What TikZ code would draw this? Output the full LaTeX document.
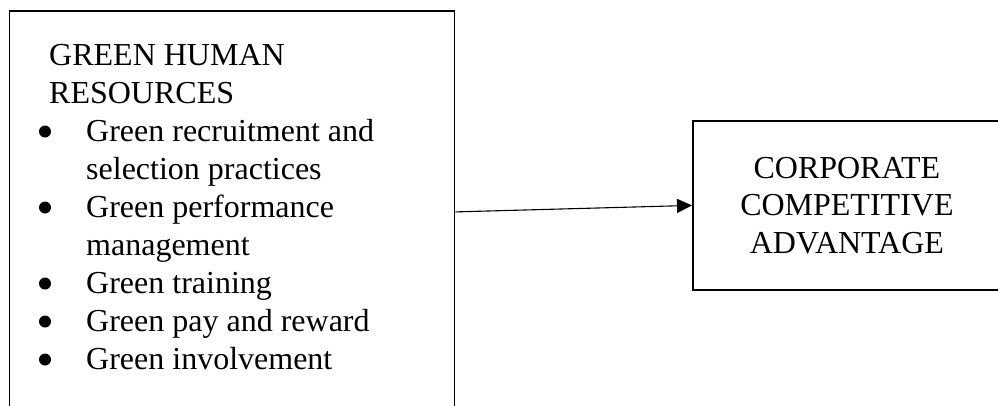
\documentclass[tikz,border=0pt]{standalone}
\usepackage{fontspec}
\setmainfont{Liberation Serif}
\usetikzlibrary{arrows.meta}

\tikzset{
  box/.style = {draw, line width=1.8pt, inner sep=0pt},
  txt/.style = {anchor=base west, inner sep=0pt,
                font=\fontsize{32}{37.5}\selectfont},
  dot/.style = {circle, fill, inner sep=0pt, minimum size=12pt}
}

\begin{document}
\begin{tikzpicture}[x=1pt, y=-1pt]
\useasboundingbox (0,0) rectangle (998,405);
% green human resources
\node [box, anchor=north west, minimum width=445pt, minimum height=402pt] (ghrm) at (8.5,10) {};
\node [txt] (t1) at (49,65.5) {GREEN HUMAN};
\node [txt] (t2) at (49,103.5) {RESOURCES};
\node [dot] (b1) at (45,131.5) {}; \node [txt] (i1) at (86,141.5) {Green recruitment and};
\node [txt] (i1b) at (86,179.5) {selection practices};
\node [dot] (b2) at (45,207.5) {}; \node [txt] (i2) at (86,217.5) {Green performance};
\node [txt] (i2b) at (86,255.5) {management};
\node [dot] (b3) at (45,283.5) {}; \node [txt] (i3) at (86,293.5) {Green training};
\node [dot] (b4) at (45,321.5) {}; \node [txt] (i4) at (86,331.5) {Green pay and reward};
\node [dot] (b5) at (45,359.5) {}; \node [txt] (i5) at (86,369.5) {Green involvement};
% corporate competitive advantage
\node [box, anchor=north west, minimum width=308pt, minimum height=169pt,
       align=center, font=\fontsize{32}{37.5}\selectfont] (cca) at (692,120)
       {CORPORATE\\COMPETITIVE\\ADVANTAGE};
% arrow
\draw [line width=1.1pt, -{Triangle[length=15pt, width=14pt]}] (ghrm.east) -- (cca.west);
\end{tikzpicture}
\end{document}
